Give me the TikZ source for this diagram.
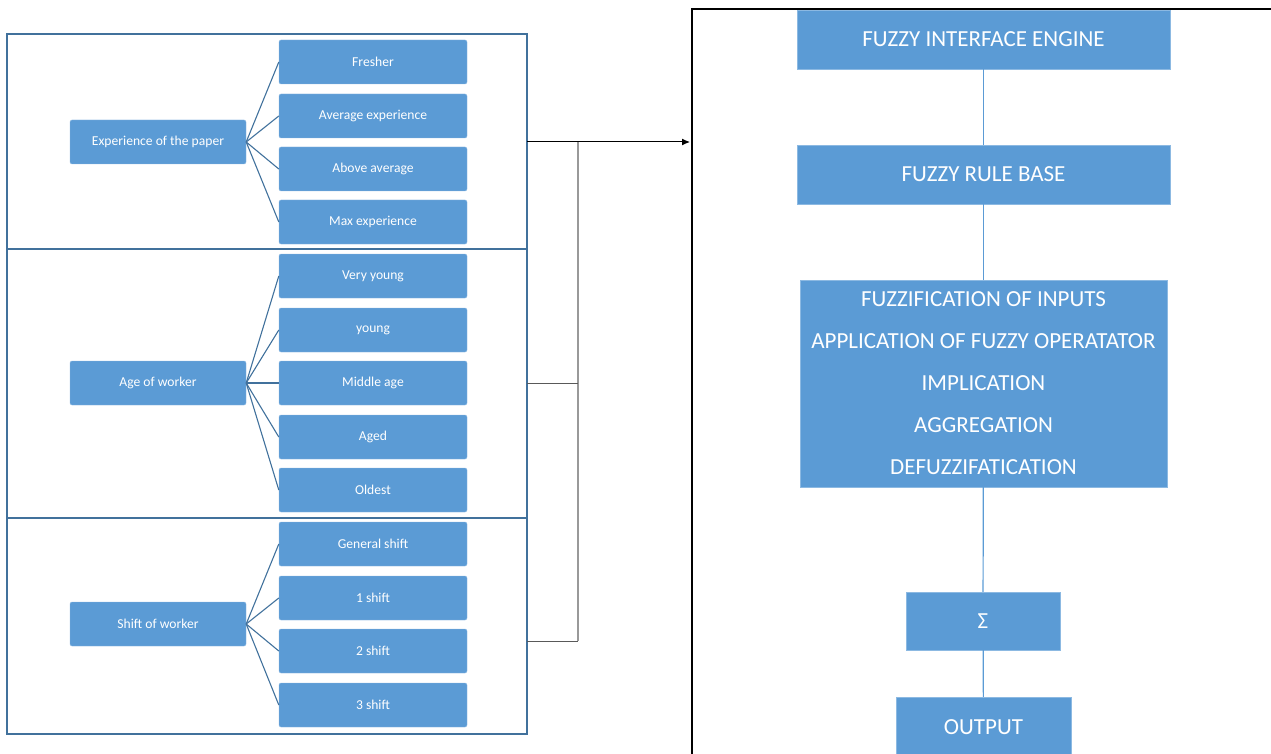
\documentclass[tikz,border=0pt]{standalone}
\usepackage{fontspec}
\setmainfont{Carlito}
\usetikzlibrary{arrows.meta}
\definecolor{boxblue}{HTML}{5B9BD5}
\definecolor{edgeblue}{HTML}{41719C}
\begin{document}
\begin{tikzpicture}[x=1pt,y=-1pt]
    \tikzstyle{root}=[fill=boxblue, draw=boxblue!70!white, rounded corners=2pt, text=white, minimum width=176pt, minimum height=44pt, inner sep=0pt, font=\fontsize{13.6}{15}\selectfont]
    \tikzstyle{leaf}=[root, minimum width=188pt]
    \tikzstyle{stage}=[fill=boxblue, draw=boxblue!70!white, text=white, inner sep=0pt, font=\fontsize{23}{42}\selectfont, align=center]
    \tikzstyle{twig}=[edgeblue, line width=1.1pt]
    \tikzstyle{flow}=[boxblue, line width=1.2pt]
    \useasboundingbox (0,0) rectangle (1271,754);
    % left frame with three sections
    \draw[edgeblue, line width=1.2pt] (7,34) rectangle (527,734);
    \draw[edgeblue, line width=2.5pt] (7,249) -- (527,249);
    \draw[edgeblue, line width=2.5pt] (7,518) -- (527,518);
    % experience
    \node[root] (exp) at (158,142) {Experience of the paper};
    \node[leaf] (fresher) at (373,62) {Fresher};
    \node[leaf] (avgexp) at (373,116) {Average experience};
    \node[leaf] (aboveavg) at (373,169) {Above average};
    \node[leaf] (maxexp) at (373,222) {Max experience};
    \draw[twig] (exp.east) -- (fresher.west);
    \draw[twig] (exp.east) -- (avgexp.west);
    \draw[twig] (exp.east) -- (aboveavg.west);
    \draw[twig] (exp.east) -- (maxexp.west);
    % age
    \node[root] (age) at (158,383) {Age of worker};
    \node[leaf] (veryyoung) at (373,276) {Very young};
    \node[leaf] (young) at (373,330) {young};
    \node[leaf] (middle) at (373,383) {Middle age};
    \node[leaf] (aged) at (373,437) {Aged};
    \node[leaf] (oldest) at (373,490) {Oldest};
    \draw[twig] (age.east) -- (veryyoung.west);
    \draw[twig] (age.east) -- (young.west);
    \draw[twig] (age.east) -- (middle.west);
    \draw[twig] (age.east) -- (aged.west);
    \draw[twig] (age.east) -- (oldest.west);
    % shift
    \node[root] (shift) at (158,624) {Shift of worker};
    \node[leaf] (general) at (373,544) {General shift};
    \node[leaf] (shiftone) at (373,598) {1 shift};
    \node[leaf] (shifttwo) at (373,651) {2 shift};
    \node[leaf] (shiftthree) at (373,705) {3 shift};
    \draw[twig] (shift.east) -- (general.west);
    \draw[twig] (shift.east) -- (shiftone.west);
    \draw[twig] (shift.east) -- (shifttwo.west);
    \draw[twig] (shift.east) -- (shiftthree.west);
    % bracket joining the sections
    \coordinate (outexp) at (527,142);
    \coordinate (outage) at (527,383);
    \coordinate (outshift) at (527,641);
    \coordinate (joinexp) at (578,142);
    \coordinate (joinage) at (578,383);
    \coordinate (joinshift) at (578,641);
    \coordinate (engineside) at (690,142);
    \draw[gray!80, line width=1.3pt] (joinexp) -- (joinshift);
    \draw[gray!70!black, line width=1pt] (outage) -- (joinage);
    \draw[gray!70!black, line width=1pt] (outshift) -- (joinshift);
    \draw[black, line width=1pt, -{Latex[length=8pt,width=7pt]}] (outexp) -- (engineside);
    % right frame
    \draw[black, line width=1.3pt] (1271,9) -- (692,9) -- (692,754);
    \node[stage, minimum width=373pt, minimum height=59pt] (engine) at (983.5,39.5) {FUZZY INTERFACE ENGINE};
    \node[stage, minimum width=373pt, minimum height=59pt] (rules) at (983.5,174.5) {FUZZY RULE BASE};
    \node[stage, minimum width=367pt, minimum height=207pt] (steps) at (983.5,383.5) {FUZZIFICATION OF INPUTS\\APPLICATION OF FUZZY OPERATATOR\\IMPLICATION\\AGGREGATION\\DEFUZZIFATICATION};
    \node[stage, minimum width=154pt, minimum height=58pt] (sum) at (983,621) {Σ};
    \node[stage, minimum width=175pt, minimum height=60pt] (output) at (983.5,727) {OUTPUT};
    \draw[flow] (engine) -- (rules);
    \draw[flow] (rules) -- (steps);
    \draw[flow] (steps) -- (sum);
    \draw[flow] (sum) -- (output);
\end{tikzpicture}
\end{document}
